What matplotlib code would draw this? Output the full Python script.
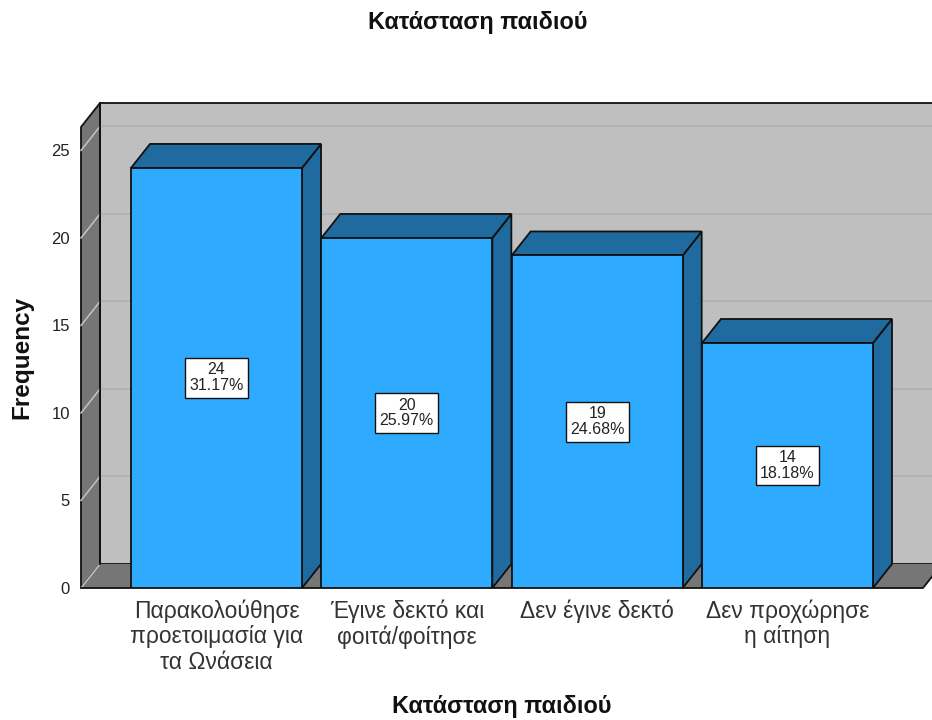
import matplotlib.pyplot as plt
from matplotlib.patches import Polygon

plt.rcParams['font.family'] = ['Liberation Sans', 'DejaVu Sans']

categories = ['Παρακολούθησε\nπροετοιμασία για\nτα Ωνάσεια',
              'Έγινε δεκτό και\nφοιτά/φοίτησε',
              'Δεν έγινε δεκτό',
              'Δεν προχώρησε\nη αίτηση']
counts = [24, 20, 19, 14]
percents = ['31.17%', '25.97%', '24.68%', '18.18%']
y_ticks = [0, 5, 10, 15, 20, 25]
chart_title = 'Κατάσταση παιδιού'
y_title = 'Frequency'

front = '#2EAAFF'
dark = '#1F6A9E'
wall = '#BFBFBF'
floor = '#767676'
line = '#111111'

W, H = 932, 720
fig = plt.figure(figsize=(W / 100, H / 100), dpi=100)
ax = fig.add_axes([81 / W, 1 - 588 / H, (923 - 81) / W, (588 - 127) / H])
ax.set_xlim(-0.712, 3.712)
ax.set_ylim(0, 26.34)

# 3d depth in data units
dx = 19 / 190.3
dy = 24 / 17.5
x0, x1 = ax.get_xlim()
y1 = ax.get_ylim()[1]


def poly(pts, fc, ec=line, lw=1.3, z=1):
    ax.add_patch(Polygon(pts, closed=True, fc=fc, ec=ec, lw=lw, zorder=z, clip_on=False))


# walls and floor
poly([(x0 + dx, dy), (x1 + dx, dy), (x1 + dx, y1 + dy), (x0 + dx, y1 + dy)], wall, z=1)
poly([(x0, 0), (x0 + dx, dy), (x0 + dx, y1 + dy), (x0, y1)], floor, z=1)
poly([(x0, 0), (x1, 0), (x1 + dx, dy), (x0 + dx, dy)], floor, ec='none', z=1.1)
ax.plot([x0, x1, x1 + dx], [0, 0, dy], color=line, lw=1.3, zorder=1.2, clip_on=False)
ax.plot([x0 + dx, x0 + dx], [dy, y1 + dy], color=line, lw=1.3, zorder=1.2, clip_on=False)

# gridlines on the back wall and the left wall
for t in y_ticks:
    if t > 0:
        ax.plot([x0 + dx, x1 + dx], [t + dy, t + dy], color='#B0B0B0', lw=1.2, zorder=1.1, clip_on=False)
    ax.plot([x0, x0 + dx], [t, t + dy], color='#C4C4C4', lw=1.1, zorder=1.15, clip_on=False)

# bars
w = 171 / 190.3
for i, v in enumerate(counts):
    l, r = i - w / 2, i + w / 2
    poly([(r, 0), (r + dx, dy), (r + dx, v + dy), (r, v)], dark, z=2)
    poly([(l, v), (r, v), (r + dx, v + dy), (l + dx, v + dy)], dark, z=2)
    ax.bar(i, v, width=w, color=front, edgecolor=line, linewidth=1.3, zorder=3)
    ax.text(i, v / 2, '%d\n%s' % (v, percents[i]), ha='center', va='center',
            fontsize=11.5, linespacing=1.08, color='#222222', zorder=4,
            bbox=dict(boxstyle='square,pad=0.27', fc='white', ec='#111111', lw=1))

for s in ax.spines.values():
    s.set_visible(False)
ax.patch.set_alpha(0)
ax.set_xticks(range(len(categories)))
ax.set_xticklabels(categories, fontsize=16.5, color='#333333', linespacing=1.15)
ax.set_yticks(y_ticks)
ax.tick_params(axis='x', length=0, pad=8)
ax.tick_params(axis='y', length=0, pad=8, labelsize=12, labelcolor='#222222')

fig.text(478 / W, 1 - 23 / H, chart_title, ha='center', va='center', fontsize=16.9, fontweight='bold', color='#111111')
fig.text(502 / W, 1 - 707 / H, chart_title, ha='center', va='center', fontsize=16.9, fontweight='bold', color='#111111')
fig.text(22 / W, 1 - 357 / H, y_title, ha='center', va='center', rotation=90, fontsize=17.5, fontweight='bold', color='#111111')

plt.savefig('out.png', dpi=100)
